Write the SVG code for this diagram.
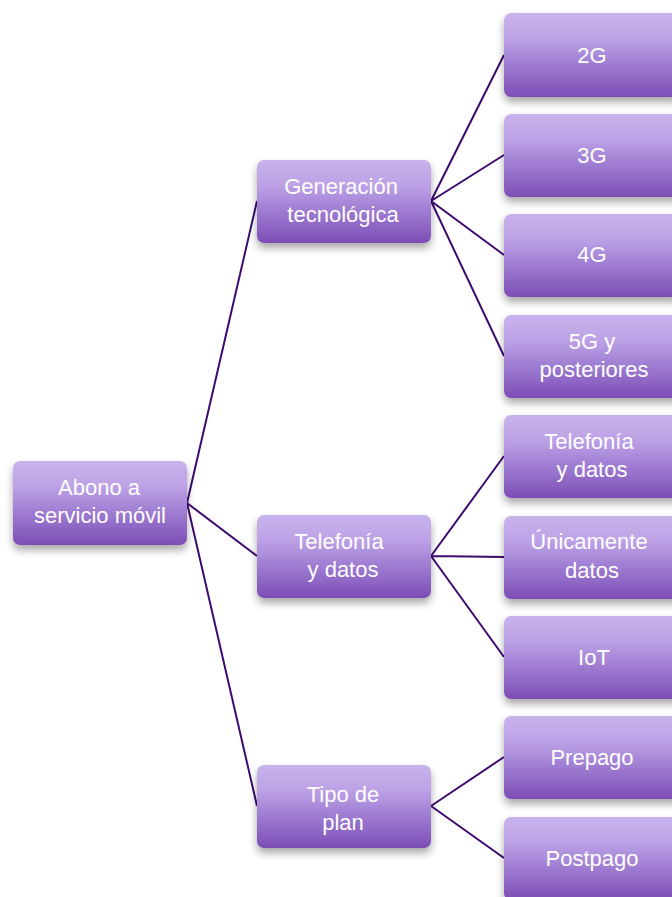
<svg xmlns="http://www.w3.org/2000/svg" width="672" height="897" viewBox="0 0 672 897">
<defs>
<linearGradient id="g" x1="0" y1="0" x2="0" y2="1">
<stop offset="0" stop-color="#c8b3ec"/>
<stop offset="0.3" stop-color="#bda2e6"/>
<stop offset="0.55" stop-color="#a484d6"/>
<stop offset="1" stop-color="#7d4db6"/>
</linearGradient>
<filter id="sh" x="-20%" y="-20%" width="140%" height="160%">
<feGaussianBlur in="SourceAlpha" stdDeviation="4"/>
<feOffset dx="0" dy="5" result="b"/>
<feComponentTransfer><feFuncA type="linear" slope="0.35"/></feComponentTransfer>
<feMerge><feMergeNode/><feMergeNode in="SourceGraphic"/></feMerge>
</filter>
</defs>
<style>
.box{fill:url(#g);filter:url(#sh)}
.t{font-family:"Liberation Sans",Arial,sans-serif;font-size:22px;fill:#ffffff;text-anchor:middle}
.c{stroke:#3d0b70;stroke-width:2;fill:none}
</style>
<rect width="672" height="897" fill="#ffffff"/>
<g id="connectors">
<path class="c" d="M187 503L257 201M187 503L257 556M187 503L257 806"/>
<path class="c" d="M431 201L504 55M431 201L504 155M431 201L504 255M431 201L504 356"/>
<path class="c" d="M431 556L504 456M431 556L504 557M431 556L504 657"/>
<path class="c" d="M431 806L504 757M431 806L504 858"/>
</g>
<g id="root"><rect class="box" x="13" y="461" width="174" height="84" rx="7"/><text class="t" x="99" y="495">Abono a</text><text class="t" x="100" y="523">servicio móvil</text></g>
<g id="gen"><rect class="box" x="257" y="160" width="174" height="83" rx="7"/><text class="t" x="341" y="194">Generación</text><text class="t" x="343" y="222">tecnológica</text></g>
<g id="tel"><rect class="box" x="257" y="515" width="174" height="83" rx="7"/><text class="t" x="339" y="549">Telefonía</text><text class="t" x="343" y="577">y datos</text></g>
<g id="tipo"><rect class="box" x="257" y="765" width="174" height="83" rx="7"/><text class="t" x="343" y="802">Tipo de</text><text class="t" x="343" y="830">plan</text></g>
<g id="n2g"><rect class="box" x="504" y="13" width="180" height="84" rx="7"/><text class="t" x="592" y="63">2G</text></g>
<g id="n3g"><rect class="box" x="504" y="114" width="180" height="83" rx="7"/><text class="t" x="592" y="163">3G</text></g>
<g id="n4g"><rect class="box" x="504" y="214" width="180" height="83" rx="7"/><text class="t" x="592" y="262">4G</text></g>
<g id="n5g"><rect class="box" x="504" y="315" width="180" height="83" rx="7"/><text class="t" x="592" y="349">5G y</text><text class="t" x="594" y="377">posteriores</text></g>
<g id="ntel"><rect class="box" x="504" y="415" width="180" height="83" rx="7"/><text class="t" x="589" y="449">Telefonía</text><text class="t" x="592" y="477">y datos</text></g>
<g id="nuni"><rect class="box" x="504" y="516" width="180" height="83" rx="7"/><text class="t" x="589" y="549">Únicamente</text><text class="t" x="592" y="578">datos</text></g>
<g id="niot"><rect class="box" x="504" y="616" width="180" height="83" rx="7"/><text class="t" x="594" y="665">IoT</text></g>
<g id="npre"><rect class="box" x="504" y="716" width="180" height="83" rx="7"/><text class="t" x="592" y="765">Prepago</text></g>
<g id="npost"><rect class="box" x="504" y="817" width="180" height="83" rx="7"/><text class="t" x="592" y="866">Postpago</text></g>
</svg>
